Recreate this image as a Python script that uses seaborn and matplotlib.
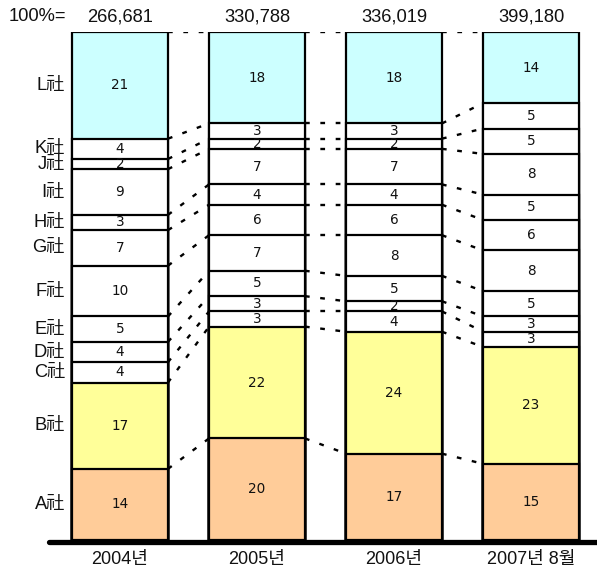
import matplotlib
matplotlib.use("Agg")
import matplotlib.pyplot as plt
import numpy as np
import pandas as pd
import seaborn as sns

# Column labels, totals (100% base) and company names
years = ["2004년", "2005년", "2006년", "2007년 8월"]
totals = ["266,681", "330,788", "336,019", "399,180"]
companies = ["A社", "B社", "C社", "D社", "E社", "F社",
             "G社", "H社", "I社", "J社", "K社", "L社"]

# Market share (%) per company, listed from A社 (bottom) to L社 (top)
share_2004 = [14, 17, 4, 4, 5, 10, 7, 3, 9, 2, 4, 21]
share_2005 = [20, 22, 3, 3, 5, 7, 6, 4, 7, 2, 3, 18]
share_2006 = [17, 24, 4, 2, 5, 8, 6, 4, 7, 2, 3, 18]
share_2007 = [15, 23, 3, 3, 5, 8, 6, 5, 8, 5, 5, 14]

company_colors = {"A社": "#FFCC99", "B社": "#FFFF99", "L社": "#CCFFFF"}

sns.set_style("white")
plt.rcParams["font.family"] = ["Liberation Sans", "Noto Sans CJK KR"]

shares = np.array([share_2004, share_2005, share_2006, share_2007], dtype=float)
tops = np.cumsum(shares, axis=1)          # upper edge of each segment
bottoms = tops - shares

fig = plt.figure(figsize=(5.97, 5.77), dpi=100)
W, H = 597.0, 577.0
x_left_px, x_right_px = 49.0, 597.0
y_bot_px, y_top_px = 540.0, 32.0
ax = fig.add_axes([x_left_px / W, (H - y_bot_px) / H,
                   (x_right_px - x_left_px) / W, (y_bot_px - y_top_px) / H])

bar_w = 0.70
# Stack by overdrawing cumulative heights, top layer first
for k in range(len(companies) - 1, -1, -1):
    layer = pd.DataFrame({"year": years, "top": tops[:, k]})
    sns.barplot(data=layer, x="year", y="top", order=years,
                color=company_colors.get(companies[k], "white"),
                saturation=1, edgecolor="black", linewidth=1.6,
                width=bar_w, errorbar=None, ax=ax, zorder=2)

# Dotted connectors between matching boundaries of neighbouring columns
half = bar_w / 2
for i in range(len(years) - 1):
    for k in range(len(companies)):
        ax.plot([i + half, i + 1 - half], [tops[i, k], tops[i + 1, k]],
                color="black", lw=1.7, linestyle=(0, (2, 4.5)),
                zorder=1, solid_capstyle="butt")

# Segment values
for i in range(len(years)):
    for k in range(len(companies)):
        yc = (bottoms[i, k] + tops[i, k]) / 2
        ax.text(i, yc, f"{int(shares[i, k])}", ha="center", va="center",
                fontsize=9.8, family=["DejaVu Sans"], color="#111111", zorder=3)

# Totals above each column
for i, t in enumerate(totals):
    ax.text(i, 103.0, t, ha="center", va="center", fontsize=13.2,
            color="#111111")
ax.text(-0.60, 103.0, "100%=", ha="center", va="center", fontsize=13.2,
        color="#111111")

# Company names beside the first column
for k, name in enumerate(companies):
    yc = (bottoms[0, k] + tops[0, k]) / 2
    ax.text(-0.40, yc, name, ha="right", va="center", fontsize=13.2,
            color="#111111")

# Thick base line
ax.axhline(-0.45, color="black", lw=3.8, zorder=4, clip_on=False)

ax.set_xlim((x_left_px - 120.0) / 137.0, (x_right_px - 120.0) / 137.0)
ax.set_ylim(0, 100)
ax.set_xticks(range(len(years)))
ax.set_xticklabels(years, fontsize=13, color="#111111")
ax.set_yticks([])
ax.tick_params(axis="x", length=0, pad=8)
ax.set_xlabel("")
ax.set_ylabel("")
for s in ax.spines.values():
    s.set_visible(False)

fig.savefig("out.png", dpi=100)
